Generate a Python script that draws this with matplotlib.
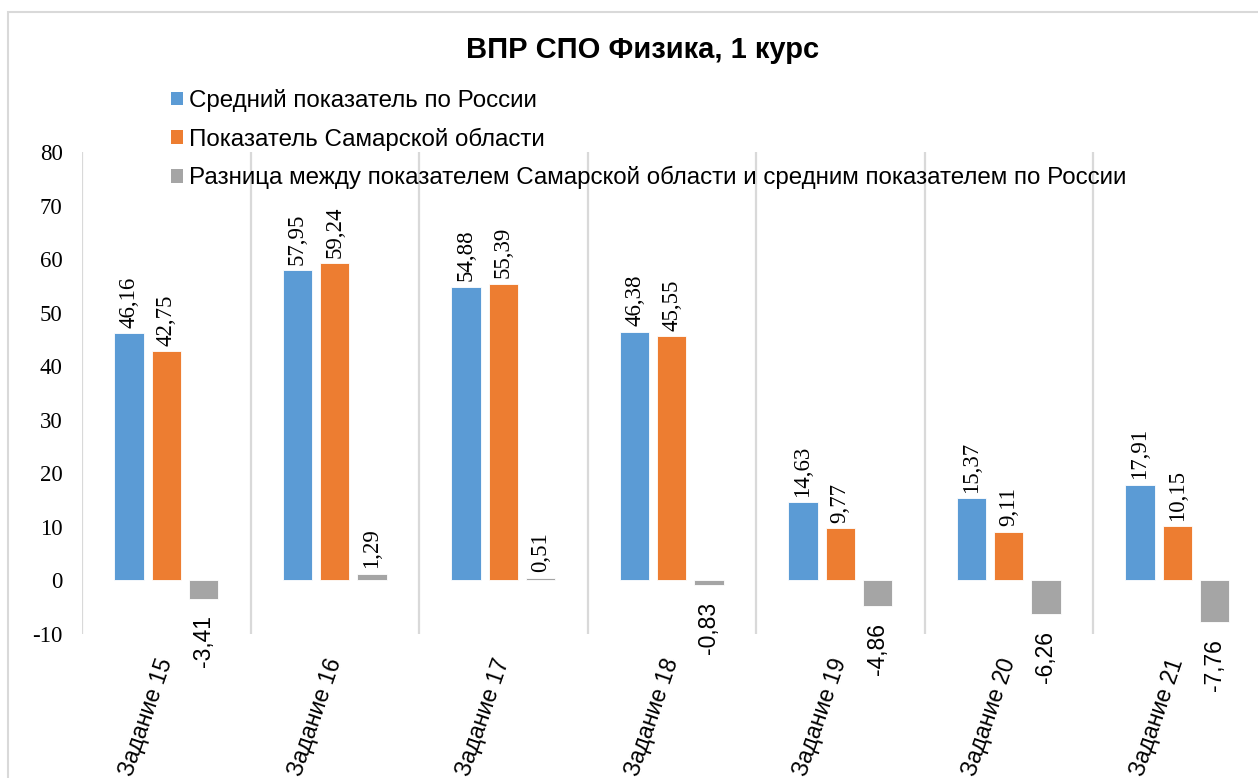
import matplotlib.pyplot as plt
from matplotlib.patches import Patch, Rectangle

plt.rcParams['axes.unicode_minus'] = False

# Данные диаграммы
zadaniya = ['Задание 15', 'Задание 16', 'Задание 17', 'Задание 18',
            'Задание 19', 'Задание 20', 'Задание 21']
rossiya = [46.16, 57.95, 54.88, 46.38, 14.63, 15.37, 17.91]
samara = [42.75, 59.24, 55.39, 45.55, 9.77, 9.11, 10.15]
raznica = [-3.41, 1.29, 0.51, -0.83, -4.86, -6.26, -7.76]

nazvaniya = ['Средний показатель по России',
             'Показатель Самарской области',
             'Разница между показателем Самарской области и средним показателем по России']
cveta = ['#5B9BD5', '#ED7D31', '#A5A5A5']

W, H = 1258, 778
fig = plt.figure(figsize=(W / 100, H / 100), dpi=100)
ax = fig.add_axes([82 / W, 1 - 634 / H, 7 * 168.5 / W, (634 - 152) / H])

# рамка области диаграммы
fig.add_artist(Rectangle((8 / W, -0.1), 1.2, 1 - 12 / H + 0.1, transform=fig.transFigure,
                         fill=False, edgecolor='#d9d9d9', linewidth=1.5))

shirina = 0.174
shag = 0.221
x = range(len(zadaniya))

# вертикальные линии сетки между категориями
for g in range(len(zadaniya) + 1):
    ax.vlines(g - 0.5, -10, 80, color='#d9d9d9', linewidth=1.6, zorder=0)


def podpis(v):
    return '{:.2f}'.format(v).replace('.', ',')


for k, (ryad, cvet) in enumerate(zip([rossiya, samara, raznica], cveta)):
    bars = ax.bar([i + (k - 1) * shag for i in x], ryad, shirina, color=cvet,
                  edgecolor='white', linewidth=0.6, zorder=2)
    for bar, v in zip(bars, ryad):
        cx = bar.get_x() + bar.get_width() / 2
        if v >= 0:
            ax.annotate(podpis(v), (cx, v), xytext=(0, 4), textcoords='offset points',
                        rotation=90, ha='center', va='bottom', fontsize=16.5,
                        family='Liberation Serif')
        else:
            ax.annotate(podpis(v), (cx, v), xytext=(0, -12), textcoords='offset points',
                        rotation=90, ha='center', va='top', fontsize=16.5,
                        family='Liberation Sans')

ax.set_xlim(-0.5, 6.5)
ax.set_ylim(-10, 80)
ax.set_yticks(range(-10, 81, 10))
ax.tick_params(axis='y', length=0, pad=14, labelsize=16.5, labelfontfamily='Liberation Serif')
ax.set_xticks(list(x))
ax.set_xticklabels(zadaniya, rotation=71, ha='right', va='center', rotation_mode='anchor',
                   family='Liberation Sans', fontsize=16.5)
ax.tick_params(axis='x', length=0, pad=18)
for s in ax.spines.values():
    s.set_visible(False)

fig.text(643 / W, 1 - 50 / H, 'ВПР СПО Физика, 1 курс', ha='center', va='center',
         fontsize=21, fontweight='bold', family='Liberation Sans')

ruchki = [Patch(facecolor=c, edgecolor='none') for c in cveta]
fig.legend(ruchki, nazvaniya, loc='upper left', bbox_to_anchor=(171 / W, 1 - 89 / H),
           frameon=False, borderpad=0, borderaxespad=0, handlelength=0.5, handleheight=0.5,
           handletextpad=0.26, labelspacing=0.64, prop={'family': 'Liberation Sans', 'size': 17.4})

plt.savefig('out.png', dpi=100)
